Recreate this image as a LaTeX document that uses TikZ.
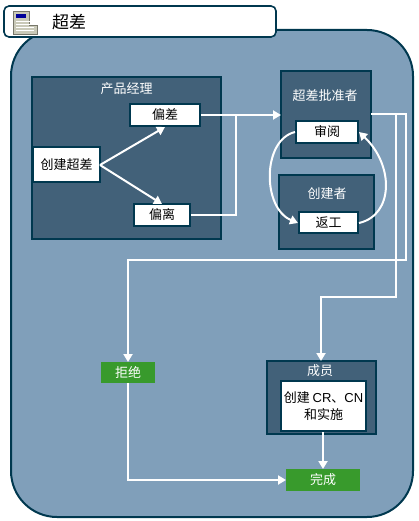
\documentclass[tikz,border=0pt]{standalone}
\usepackage{fontspec}
\setmainfont{Liberation Sans}
\newfontfamily\cjk{Noto Sans CJK SC}
\usetikzlibrary{arrows.meta,calc}
\definecolor{bgblue}{HTML}{809FBA}
\definecolor{panelblue}{HTML}{426179}
\definecolor{edgeblue}{HTML}{00384F}
\definecolor{greenbox}{HTML}{389A2C}
\definecolor{iconbeige}{HTML}{C9C9B8}
\definecolor{iconedge}{HTML}{77776A}
\tikzset{
  x=1pt,y=-1pt,
  panel/.style={draw=edgeblue,fill=panelblue,line width=2pt},
  taskbox/.style={draw=edgeblue,fill=white,line width=2pt},
  greenrect/.style={fill=greenbox},
  blacktext/.style={font=\cjk\fontsize{13}{17}\selectfont,text=black,align=center,inner sep=0pt},
  whitetext/.style={font=\cjk\fontsize{13}{17}\selectfont,text=white,align=center,inner sep=0pt},
  conn/.style={draw=white,line width=2pt,-{Triangle[width=9pt,length=8pt]}},
  plainconn/.style={draw=white,line width=2pt},
}
\begin{document}
\begin{tikzpicture}
\useasboundingbox (0,0) rectangle (418,521);
\fill[white] (0,0) rectangle (418,521);
% main area
\draw[draw=edgeblue,fill=bgblue,line width=2pt,rounded corners=46pt] (11,30) rectangle (413,517);
% title
\draw[draw=edgeblue,fill=white,line width=1.6pt,rounded corners=5pt] (4,6) rectangle (276,37);
% icon
\fill[iconbeige] (13,11) rectangle (29,34);
\fill[iconbeige] (29,25) rectangle (37,34);
\draw[iconedge,line width=.6pt] (13,11) -- (29,11) -- (29,25) -- (37,25) -- (37,34) -- (13,34) -- cycle;
\fill[blue!60!black] (16,14) rectangle (26,18);
\foreach \yy in {21,24,27,30}{\draw[white,line width=.8pt] (16,\yy) -- (34,\yy);}
\node[font=\cjk\fontsize{17}{20}\selectfont,inner sep=0pt] (title) at (69,22) {超差};
% panels
\draw[panel] (32,77) rectangle (221,239);
\node[whitetext] (pmlabel) at (126.5,89) {产品经理};
\draw[panel] (281,71) rectangle (371,158);
\coordinate (apr) at (371,114);
\coordinate (aprin) at (281,115);
\node[whitetext] (aprlabel) at (325,96) {超差批准者};
\draw[panel] (279,175) rectangle (374,249);
\node[whitetext] (crlabel) at (327,194) {创建者};
\draw[panel] (267,361) rectangle (376,434);
\coordinate (memin) at (321,361);
\node[whitetext] (memlabel) at (320,371) {成员};
% task boxes
\draw[taskbox] (130,104) rectangle (200,126);
\node[blacktext] (dev) at (165,115) {偏差};
\draw[taskbox] (33,147) rectangle (100,182);
\node[blacktext] (create) at (66.5,165) {创建超差};
\draw[taskbox] (134,204) rectangle (190,226);
\node[blacktext] (wai) at (162,215) {偏离};
\draw[taskbox] (296,121) rectangle (358,143);
\node[blacktext] (rev) at (327,132) {审阅};
\draw[taskbox] (299,212) rectangle (358,233);
\node[blacktext] (rew) at (328.5,223) {返工};
\draw[taskbox] (281,381) rectangle (366,431);
\node[blacktext] (impl) at (323.5,406) {创建 {\fontspec{Liberation Sans}CR}、{\fontspec{Liberation Sans}CN}\\和实施};
% green
\fill[greenrect] (101,362) rectangle (155,383);
\node[whitetext] (rej) at (128,372.5) {拒绝};
\fill[greenrect] (286,469) rectangle (360,491);
\node[whitetext] (done) at (323,480) {完成};
% anchors on box edges
\coordinate (createE) at (100,165);
\coordinate (devS) at (165,127);
\coordinate (waiN) at (162,204);
\coordinate (devE) at (201,115);
\coordinate (waiE) at (191,215);
\coordinate (revW) at (295,132);
\coordinate (revE) at (359,132);
\coordinate (rewW) at (298,223);
\coordinate (rewE) at (359,223);
\coordinate (rejN) at (128,362);
\coordinate (rejS) at (128,383);
\coordinate (doneW) at (286,480);
\coordinate (doneN) at (323,469);
\coordinate (implS) at (323,432);
% connectors
\draw[conn] (createE) -- (devS);
\draw[conn] (createE) -- (waiN);
\draw[conn] (devE) -- (aprin);
\draw[plainconn] (waiE) -- (236,215) -- (236,115);
\draw[conn] (apr) -- (406,114) -- (406,260) -- (128,260) -- (rejN);
\draw[conn] (396,114) -- (396,297) -- (321,297) -- (memin);
\draw[conn] (rejS) -- (128,480) -- (doneW);
\draw[conn] (implS) -- (doneN);
\draw[conn] (revW) .. controls (262,140) and (262,208) .. (rewW);
\draw[conn] (rewE) .. controls (394,215) and (394,165) .. (revE);
\end{tikzpicture}
\end{document}
